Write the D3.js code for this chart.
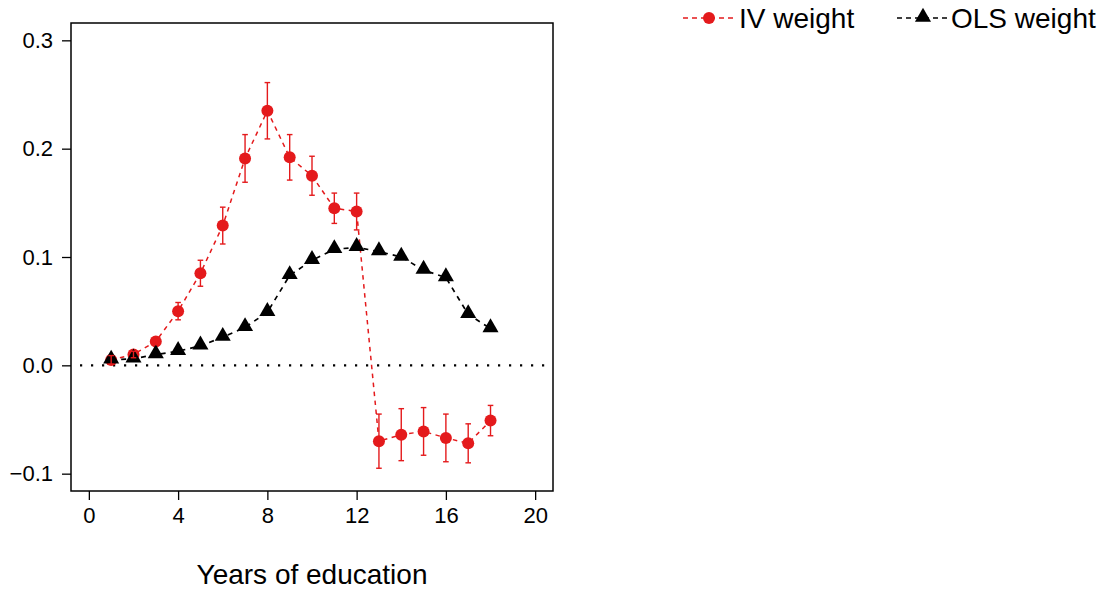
<!DOCTYPE html>
<html>
<head>
<meta charset="utf-8">
<script src="https://cdn.jsdelivr.net/npm/d3@7"></script>
<style>
  html, body { margin: 0; padding: 0; background: #fff; }
  svg { display: block; }
  text { font-family: "Liberation Sans", Arial, Helvetica, sans-serif; fill: #000; }
</style>
</head>
<body>
<svg id="chart" width="1109" height="589"></svg>
<script>
// ---- Data ----
const years = [1, 2, 3, 4, 5, 6, 7, 8, 9, 10, 11, 12, 13, 14, 15, 16, 17, 18];
const ivWeight = [0.005, 0.010, 0.022, 0.050, 0.085, 0.129, 0.191, 0.235, 0.192, 0.175, 0.145, 0.142, -0.070, -0.064, -0.061, -0.067, -0.072, -0.051];
const ivError = [0.004, 0.003, 0.003, 0.008, 0.012, 0.017, 0.022, 0.026, 0.021, 0.018, 0.014, 0.017, 0.025, 0.024, 0.022, 0.022, 0.018, 0.014];
const olsWeight = [0.005, 0.006, 0.010, 0.013, 0.018, 0.026, 0.035, 0.049, 0.083, 0.097, 0.107, 0.109, 0.105, 0.100, 0.088, 0.081, 0.047, 0.034];
const xTicks = [0, 4, 8, 12, 16, 20];
const yTicks = [-0.1, 0.0, 0.1, 0.2, 0.3];
const yTickLabels = ["\u22120.1", "0.0", "0.1", "0.2", "0.3"];
const seriesNames = ["IV weight", "OLS weight"];
const xTitle = "Years of education";

// ---- Layout ----
const red = "#E41A1C";
const box = { left: 71, right: 553, top: 23, bottom: 491 };
const svg = d3.select("#chart");

const x = d3.scaleLinear().domain([-0.8, 20.8]).range([box.left, box.right]);
const y = d3.scaleLinear().domain([-0.116, 0.316]).range([box.bottom, box.top]);

// zero reference line (dotted)
svg.append("line")
  .attr("x1", box.left + 9).attr("x2", box.right)
  .attr("y1", y(0)).attr("y2", y(0))
  .attr("stroke", "#000").attr("stroke-width", 2.2)
  .attr("stroke-dasharray", "2.2,8.8");

// axes
const xAxis = d3.axisBottom(x).tickValues(xTicks).tickSize(9).tickPadding(6).tickFormat(d3.format("d"));
const gx = svg.append("g").attr("transform", `translate(0,${box.bottom})`).call(xAxis);
gx.select(".domain").remove();
gx.selectAll(".tick line").attr("stroke", "#000").attr("stroke-width", 1.3);
gx.selectAll(".tick text").attr("font-size", 22).attr("font-family", "Liberation Sans, Arial, sans-serif").attr("dy", "0.75em");

const yAxis = d3.axisLeft(y).tickValues(yTicks).tickSize(9).tickPadding(9)
  .tickFormat((d, i) => yTickLabels[i]);
const gy = svg.append("g").attr("transform", `translate(${box.left},0)`).call(yAxis);
gy.select(".domain").remove();
gy.selectAll(".tick line").attr("stroke", "#000").attr("stroke-width", 1.3);
gy.selectAll(".tick text").attr("font-size", 22).attr("font-family", "Liberation Sans, Arial, sans-serif");

// plot box
svg.append("rect")
  .attr("x", box.left).attr("y", box.top)
  .attr("width", box.right - box.left).attr("height", box.bottom - box.top)
  .attr("fill", "none").attr("stroke", "#000").attr("stroke-width", 1.5);

const ivData = years.map((d, i) => ({ x: d, y: ivWeight[i], e: ivError[i] }));
const olsData = years.map((d, i) => ({ x: d, y: olsWeight[i] }));

const line = d3.line().x(d => x(d.x)).y(d => y(d.y));

// IV line + points
svg.append("path").datum(ivData).attr("d", line)
  .attr("fill", "none").attr("stroke", red).attr("stroke-width", 1.5)
  .attr("stroke-dasharray", "4.5,4.5");
svg.append("g").selectAll("circle").data(ivData).join("circle")
  .attr("cx", d => x(d.x)).attr("cy", d => y(d.y)).attr("r", 6)
  .attr("fill", red);

// OLS line + points
svg.append("path").datum(olsData).attr("d", line)
  .attr("fill", "none").attr("stroke", "#000").attr("stroke-width", 1.7)
  .attr("stroke-dasharray", "5,5");
const tri = d3.symbol().type(d3.symbolTriangle).size(112);
svg.append("g").selectAll("path").data(olsData).join("path")
  .attr("d", tri)
  .attr("transform", d => `translate(${x(d.x)},${y(d.y) - 1})`)
  .attr("fill", "#000");

// IV error bars
const eb = svg.append("g").attr("stroke", red).attr("stroke-width", 1.4).attr("fill", "none");
ivData.forEach(d => {
  const cx = x(d.x), y0 = y(d.y - d.e), y1 = y(d.y + d.e);
  eb.append("line").attr("x1", cx).attr("x2", cx).attr("y1", y0).attr("y2", y1);
  eb.append("line").attr("x1", cx - 2.8).attr("x2", cx + 2.8).attr("y1", y0).attr("y2", y0);
  eb.append("line").attr("x1", cx - 2.8).attr("x2", cx + 2.8).attr("y1", y1).attr("y2", y1);
});

// x-axis title
svg.append("text")
  .attr("x", (x(0) + x(20)) / 2).attr("y", 584)
  .attr("text-anchor", "middle").attr("font-size", 28)
  .text(xTitle);

// legend
const leg = svg.append("g");
const legY = 18;
// IV
leg.append("line").attr("x1", 683).attr("x2", 737).attr("y1", legY).attr("y2", legY)
  .attr("stroke", red).attr("stroke-width", 1.5).attr("stroke-dasharray", "5,4");
leg.append("circle").attr("cx", 709).attr("cy", legY).attr("r", 6).attr("fill", red);
leg.append("text").attr("x", 739).attr("y", legY).attr("dy", "0.36em")
  .attr("font-size", 28).text(seriesNames[0]);
// OLS
leg.append("line").attr("x1", 897).attr("x2", 949).attr("y1", legY).attr("y2", legY)
  .attr("stroke", "#000").attr("stroke-width", 1.5).attr("stroke-dasharray", "5,4");
leg.append("path").attr("d", tri).attr("transform", `translate(923,${legY - 1})`).attr("fill", "#000");
leg.append("text").attr("x", 951).attr("y", legY).attr("dy", "0.36em")
  .attr("font-size", 28).text(seriesNames[1]);
</script>
</body>
</html>
